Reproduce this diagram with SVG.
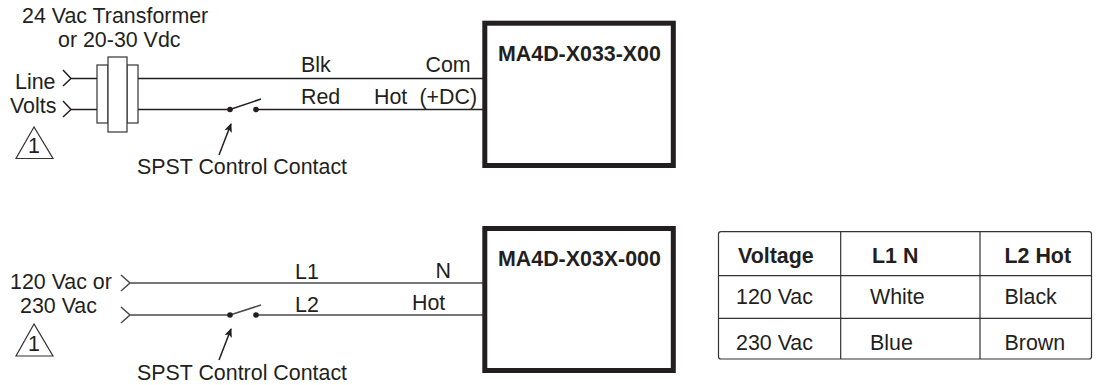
<svg xmlns="http://www.w3.org/2000/svg" width="1098" height="385" viewBox="0 0 1098 385">
<style>
text{font-family:"Liberation Sans",Arial,sans-serif;font-size:21.4px;fill:#231f20}
.b{font-weight:bold}
.w{fill:none;stroke:#231f20;stroke-width:1.5}
.g{fill:none;stroke:#4a4a4a;stroke-width:1.5}
.box{fill:none;stroke:#231f20;stroke-width:5}
.t{fill:none;stroke:#333;stroke-width:1.2}
</style>
<defs>
<marker id="ah" markerWidth="10" markerHeight="10" refX="8" refY="4" orient="auto" markerUnits="userSpaceOnUse"><path d="M0 0L9 4L0 8L2 4Z" fill="#231f20"/></marker>
</defs>
<g id="connectors">
<path class="w" d="M63 70L71 78.500L63 86M71 78.500H97M138 78.500H484"/>
<path class="w" d="M63 101L71 109.500L63 117M71 109.500H97M138 109.500H230L261 99M256 109.500H484"/>
<path class="w" d="M219 155L231 124" marker-end="url(#ah)"/>
<path class="g" d="M121 275L130 283L121 291M130 283H484"/>
<path class="g" d="M121 307L130 315L121 323M130 315H230L261 305M256 315H484"/>
<path class="w" d="M219 360L231 329" marker-end="url(#ah)"/>
<circle cx="230" cy="109.500" r="2.800" fill="#231f20"/><circle cx="256" cy="109.500" r="2.800" fill="#231f20"/>
<circle cx="230" cy="315" r="2.800" fill="#231f20"/><circle cx="256" cy="315" r="2.800" fill="#231f20"/>
</g>
<g id="transformer">
<rect class="t" x="97" y="65" width="11" height="58"/>
<rect class="t" x="127" y="65" width="11" height="58"/>
<rect x="108" y="57" width="19" height="75" fill="#fff" stroke="#333" stroke-width="1.200"/>
<text x="22" y="23">24 Vac Transformer</text>
<text x="58" y="47">or 20-30 Vdc</text>
</g>
<g id="line-volts">
<text x="15" y="89">Line</text>
<text x="10" y="113">Volts</text>
</g>
<g id="note-1"><path class="t" d="M34 127L16 158.500H53Z"/><text x="28" y="153">1</text></g>
<g id="switch-label-1"><text x="137" y="174">SPST Control Contact</text></g>
<g id="wire-labels-1">
<text x="301" y="71.500">Blk</text><text x="425.500" y="71.500">Com</text>
<text x="301" y="104">Red</text><text x="374" y="104">Hot</text><text x="419.500" y="104">(+DC)</text>
</g>
<g id="device-1"><rect class="box" x="484.800" y="23.200" width="188.500" height="142.300"/><text class="b" x="498" y="61">MA4D-X033-X00</text></g>
<g id="supply-2">
<text x="10" y="289">120 Vac or</text>
<text x="20" y="313">230 Vac</text>
</g>
<g id="note-2"><path class="t" d="M34 324L16 356H53Z"/><text x="28" y="351">1</text></g>
<g id="switch-label-2"><text x="137" y="380">SPST Control Contact</text></g>
<g id="wire-labels-2">
<text x="295" y="279">L1</text><text x="435.500" y="278">N</text>
<text x="295" y="311.500">L2</text><text x="412" y="310">Hot</text>
</g>
<g id="device-2"><rect class="box" x="484.800" y="228.500" width="188.500" height="142"/><text class="b" x="498" y="266">MA4D-X03X-000</text></g>
<g id="table">
<rect class="t" x="718.500" y="231.700" width="373" height="127.300" rx="2.500"/>
<path class="t" d="M718.500 275.700H1091.500M718 318.300H1091.500M840.700 231.700V359M980 231.700V359"/>
<text class="b" x="738" y="262.500">Voltage</text><text class="b" x="872" y="262.500">L1 N</text><text class="b" x="1004.500" y="262.500">L2 Hot</text>
<text x="736" y="304">120 Vac</text><text x="870" y="304">White</text><text x="1004.500" y="304">Black</text>
<text x="736" y="350">230 Vac</text><text x="870" y="350">Blue</text><text x="1004.500" y="350">Brown</text>
</g>
</svg>
